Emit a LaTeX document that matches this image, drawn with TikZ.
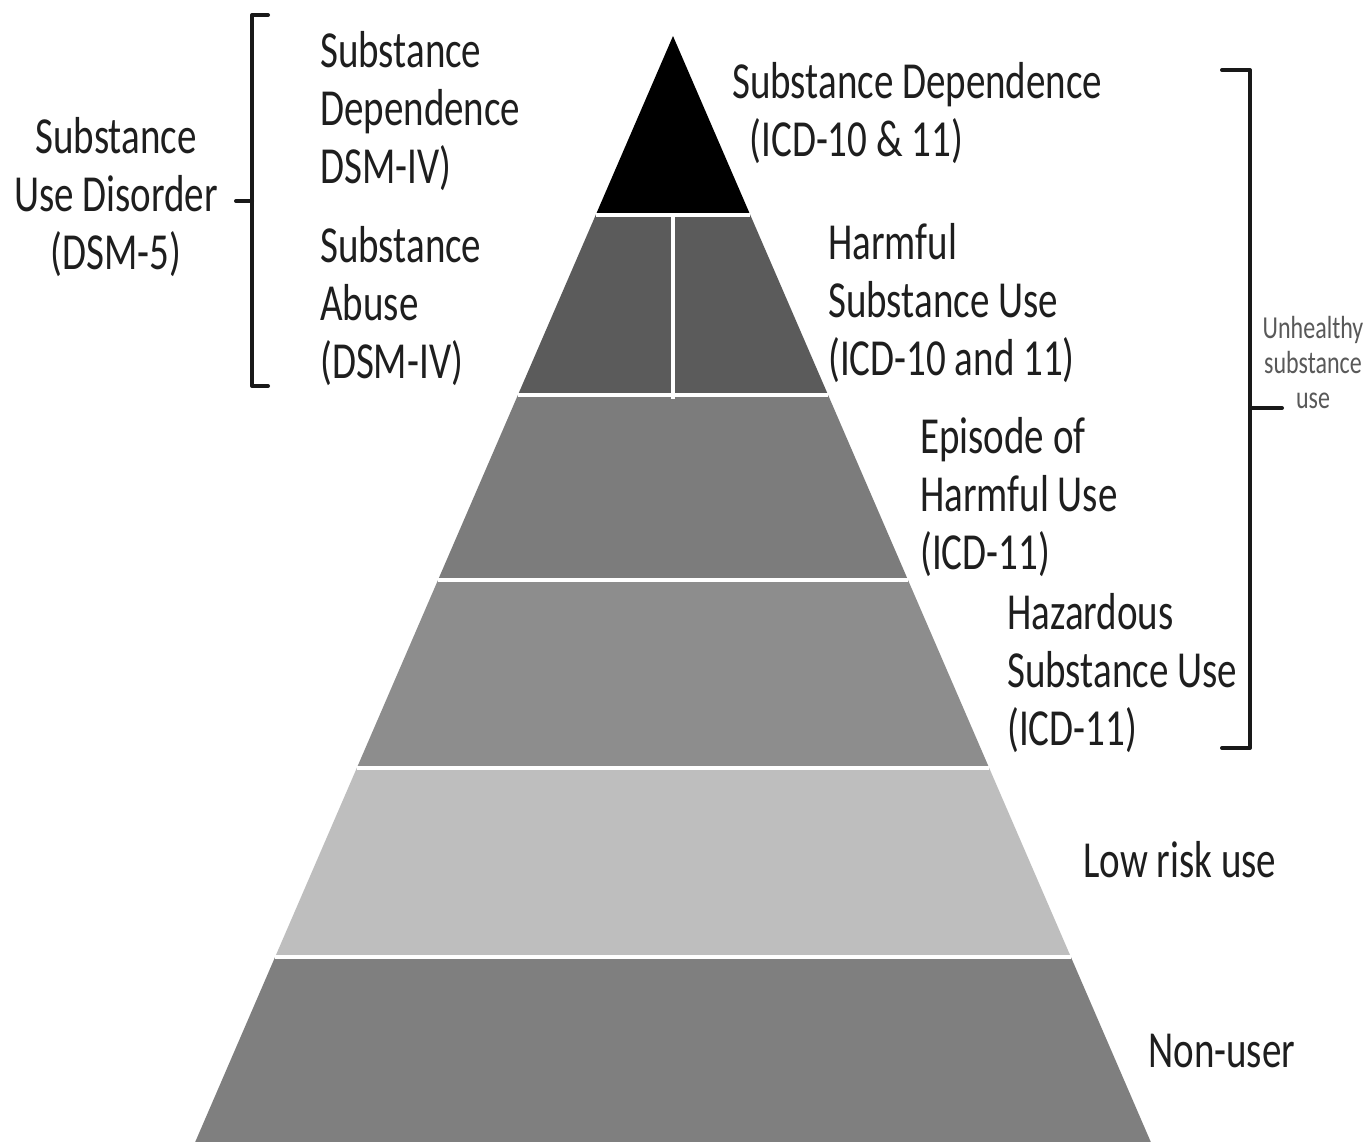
\documentclass[tikz,border=0pt]{standalone}
\usepackage{fontspec}
\setmainfont{Carlito}
\newfontfamily\lblfam[FakeStretch=0.75]{Carlito}
\definecolor{txt}{HTML}{1E1E1E}
\definecolor{bandA}{HTML}{000000}
\definecolor{bandB}{HTML}{5B5B5B}
\definecolor{bandC}{HTML}{7C7C7C}
\definecolor{bandD}{HTML}{8D8D8D}
\definecolor{bandE}{HTML}{BEBEBE}
\definecolor{bandF}{HTML}{7F7F7F}
\definecolor{smalltxt}{HTML}{595959}
\begin{document}
\begin{tikzpicture}[x=0.75pt,y=-0.75pt,
  lbl/.style={font=\lblfam\fontsize{39}{43.5}\selectfont, text=txt, align=left, inner sep=0pt, anchor=north west},
  lblc/.style={lbl, align=center, anchor=north},
  small/.style={font=\lblfam\fontsize{24}{26.25}\selectfont, text=smalltxt, align=center, inner sep=0pt, anchor=north},
  sep/.style={white, line width=3pt},
  brk/.style={line width=3pt, black!90, line join=round, line cap=round}]
\fill[white] (0,0) rectangle (1371,1142);
\useasboundingbox (0,0) rectangle (1371,1142);
% pyramid bands
\fill[bandA] (673,36) -- (750.3,215) -- (595.7,215) -- cycle;
\fill[bandB] (595.7,215) -- (750.3,215) -- (828.1,395) -- (517.9,395) -- cycle;
\fill[bandC] (517.9,395) -- (828.1,395) -- (908.0,580) -- (438.0,580) -- cycle;
\fill[bandD] (438.0,580) -- (908.0,580) -- (989.2,768) -- (356.8,768) -- cycle;
\fill[bandE] (356.8,768) -- (989.2,768) -- (1070.9,957) -- (275.1,957) -- cycle;
\fill[bandF] (275.1,957) -- (1070.9,957) -- (1150.8,1142) -- (195.2,1142) -- cycle;
% white separators
\draw[sep] (595.7,215) -- (750.3,215);
\draw[sep] (517.9,395) -- (828.1,395);
\draw[sep] (438.0,580) -- (908.0,580);
\draw[sep] (356.8,768) -- (989.2,768);
\draw[sep] (275.1,957) -- (1070.9,957);
\draw[sep] (673,215) -- (673,399);
% brackets
\draw[brk] (268,15) -- (252,15) -- (252,386) -- (268,386);
\draw[brk] (252,201) -- (236,201);
\draw[brk] (1222,70) -- (1250,70) -- (1250,748) -- (1222,748);
\draw[brk] (1250,408) -- (1282,408);
% labels
\node[lblc] (sud) at (116,112.4) {\strut Substance\\Use Disorder\\(DSM-5)};
\node[lbl] (sddsm) at (320,26.4) {\strut Substance\\Dependence\\DSM-IV)};
\node[lbl] (sadsm) at (320,221.4) {\strut Substance\\Abuse\\(DSM-IV)};
\node[lbl] (sdicd) at (732,57.4) {\strut Substance Dependence\\\hspace*{13pt}(ICD-10 \& 11)};
\node[lbl] (hsu) at (828,218.4) {\strut Harmful\\Substance Use\\(ICD-10 and 11)};
\node[lbl] (ehu) at (920,412.4) {\strut Episode of\\Harmful Use\\(ICD-11)};
\node[lbl] (hzu) at (1007,588.4) {\strut Hazardous\\Substance Use\\(ICD-11)};
\node[lbl] (lru) at (1083,836.4) {\strut Low risk use};
\node[lbl] (nu) at (1148,1026.4) {\strut Non-user};
\node[small] (uhs) at (1313,314) {\strut Unhealthy\\substance\\use};
\end{tikzpicture}
\end{document}
